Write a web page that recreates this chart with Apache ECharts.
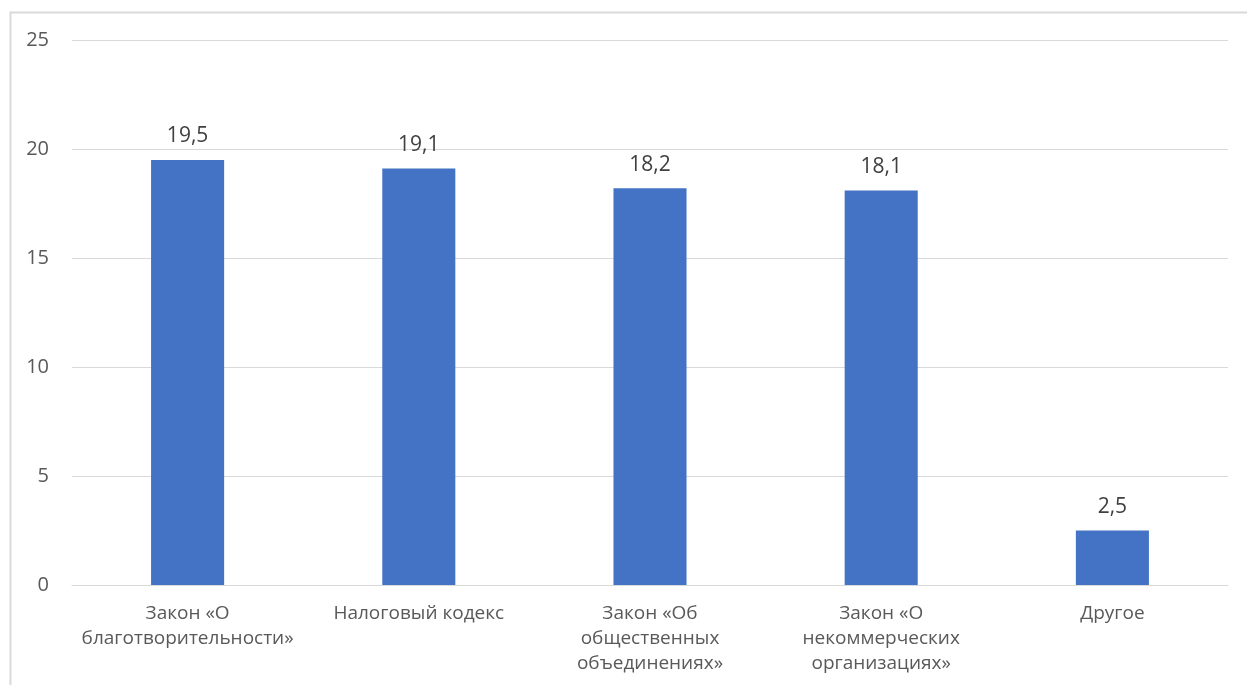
<!DOCTYPE html>
<html>
<head>
<meta charset="utf-8">
<script src="https://cdn.jsdelivr.net/npm/echarts@6/dist/echarts.min.js"></script>
<style>
html,body{margin:0;padding:0;background:#fff;}
#chart{width:1247px;height:685px;}
</style>
</head>
<body>
<div id="chart"></div>
<script>
const categories = ['Закон «О\nблаготворительности»', 'Налоговый кодекс', 'Закон «Об\nобщественных\nобъединениях»', 'Закон «О\nнекоммерческих\nорганизациях»', 'Другое'];
const values = [19.5, 19.1, 18.2, 18.1, 2.5];
const yTicks = [0, 5, 10, 15, 20, 25];

const chart = echarts.init(document.getElementById('chart'));
const font = '"Open Sans", "Noto Sans", sans-serif';
chart.setOption({
  animation: false,
  graphic: [{
    type: 'rect', left: 8, top: 10,
    shape: { width: 1400, height: 800 },
    style: { fill: 'none', stroke: '#d9d9d9', lineWidth: 2 },
    silent: true
  }],
  grid: { left: 72, right: 19, top: 40, bottom: 100, containLabel: false },
  xAxis: {
    type: 'category',
    data: categories,
    axisLine: { show: true, lineStyle: { color: '#d9d9d9', width: 1 } },
    axisTick: { show: false },
    axisLabel: { color: '#595959', fontSize: 19, fontFamily: font, lineHeight: 25, margin: 16, interval: 0 }
  },
  yAxis: {
    type: 'value',
    min: yTicks[0], max: yTicks[yTicks.length - 1], interval: 5,
    axisLine: { show: false },
    axisTick: { show: false },
    splitLine: { lineStyle: { color: '#d9d9d9', width: 1 } },
    axisLabel: { color: '#595959', fontSize: 20, fontFamily: font, margin: 23 }
  },
  series: [{
    type: 'bar',
    data: values,
    barWidth: '31.6%',
    itemStyle: { color: '#4472c4' },
    label: {
      show: true, position: 'top', distance: 13,
      color: '#404040', fontSize: 21, fontFamily: font,
      formatter: p => String(p.value).replace('.', ',')
    }
  }]
});
</script>
</body>
</html>
